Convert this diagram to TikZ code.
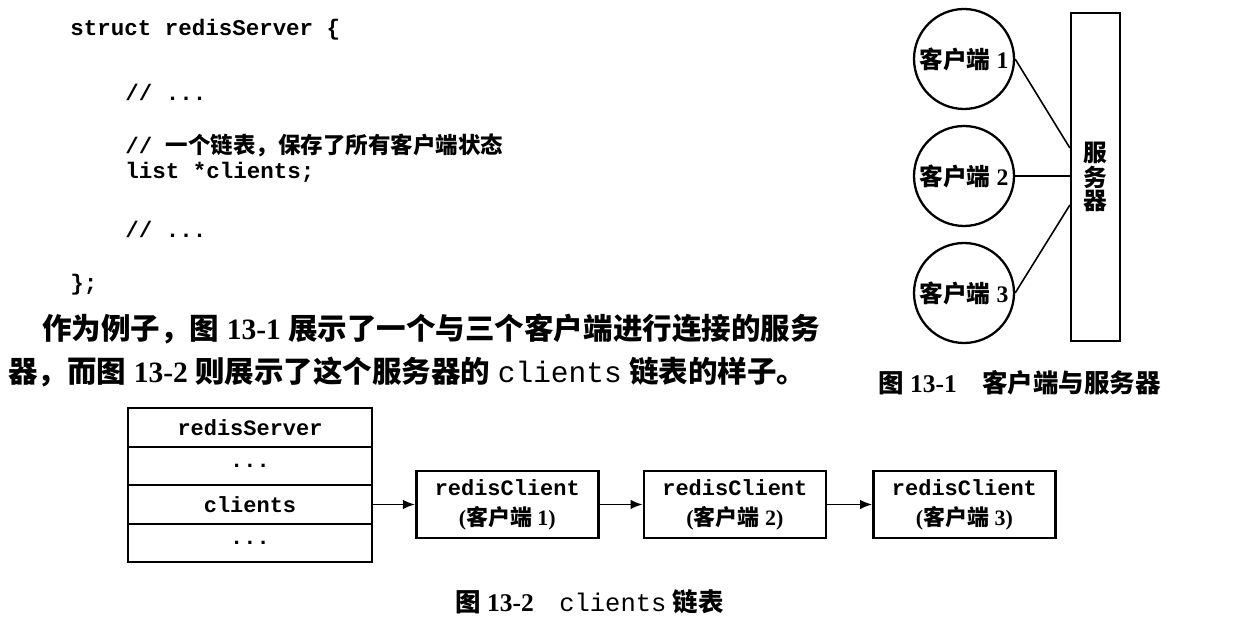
\documentclass[tikz,border=0pt]{standalone}
\usepackage{fontspec}
\setmainfont{Liberation Serif}
\setmonofont{Liberation Mono}
\newfontfamily\cjk{Noto Sans CJK SC}
\usepackage{tikz}
\usetikzlibrary{positioning,arrows.meta,calc}
\newcommand{\zh}[1]{{\cjk #1}}

\begin{document}
\begin{tikzpicture}[x=0.02cm, y=-0.02cm,
  code/.style={anchor=west, inner sep=0, font=\fontsize{12.8}{15}\selectfont\ttfamily\bfseries},
  para/.style={anchor=west, inner sep=0, font=\fontsize{16.8}{20}\selectfont\bfseries},
  figcap/.style={anchor=west, inner sep=0, font=\fontsize{14.5}{17}\selectfont\bfseries},
  cli/.style={draw, circle, line width=1.3pt, minimum size=2cm, inner sep=0, font=\fontsize{13.5}{16}\selectfont\bfseries},
  row/.style={draw, line width=1.3pt, minimum width=4.88cm, minimum height=0.77cm, outer sep=0, inner sep=0, font=\fontsize{12.5}{15}\selectfont\ttfamily\bfseries},
  rc/.style={draw, line width=1.5pt, minimum width=3.64cm, minimum height=1.34cm, align=center, inner sep=0, font=\fontsize{12.5}{17}\selectfont\ttfamily\bfseries},
  arr/.style={-{Latex[length=2.4mm,width=1.9mm]}, line width=0.9pt}]
\useasboundingbox (0,0) rectangle (1233,634);
% code of the struct
\node[code] (l0) at (70,30) {struct redisServer \{};
\node[code] (l1) at (125,92) {// ...};
\node[code] (l2) at (125,145) {// \zh{一个链表，保存了所有客户端状态}};
\node[code] (l3) at (125,172) {list *clients;};
\node[code] (l4) at (125,229) {// ...};
\node[code] (l5) at (70,285) {\};};
\node[para] (p1) at (42,329) {\zh{作为例子，图} 13-1 \zh{展示了一个与三个客户端进行连接的服务}};
\node[para] (p2) at (8,372) {\zh{器，而图} 13-2 \zh{则展示了这个服务器的} {\mdseries\ttfamily clients} \zh{链表的样子。}};
% figure 13-1
\node[cli] (c1) at (964,59) {\zh{客户端} 1};
\node[cli] (c2) at (964,176) {\zh{客户端} 2};
\node[cli] (c3) at (964,293) {\zh{客户端} 3};
\node[draw, line width=1.3pt, minimum width=0.98cm, minimum height=6.56cm, align=center, inner sep=0,
  font=\fontsize{13.5}{11.6}\selectfont\cjk\bfseries] (srv) at (1095.5,177) {服\\务\\器};
\draw[line width=0.9pt] (c1.east) -- ([yshift=0.58cm]srv.west);
\draw[line width=0.9pt] (c2.east) -- (srv.west |- c2.east);
\draw[line width=0.9pt] (c3.east) -- ([yshift=-0.56cm]srv.west);
\node[figcap] (f1) at (878,383) {\zh{图} 13-1\hspace{1em}\zh{客户端与服务器}};
% figure 13-2
\node[row] (r0) at (250,427.5) {redisServer};
\node[row, below=0pt of r0] (r1) {...};
\node[row, below=0pt of r1] (r2) {clients};
\node[row, below=0pt of r2] (r3) {...};
\node[rc, right=0.86cm of r2] (k1) {redisClient\\{\rmfamily(\zh{客户端} 1)}};
\node[rc, right=0.86cm of k1] (k2) {redisClient\\{\rmfamily(\zh{客户端} 2)}};
\node[rc, right=0.9cm of k2] (k3) {redisClient\\{\rmfamily(\zh{客户端} 3)}};
\draw[arr] (r2) -- (k1);
\draw[arr] (k1) -- (k2);
\draw[arr] (k2) -- (k3);
\node[figcap] (f2) at (455,602) {\zh{图} 13-2\hspace{1em}{\mdseries\ttfamily clients} \zh{链表}};
\end{tikzpicture}
\end{document}
